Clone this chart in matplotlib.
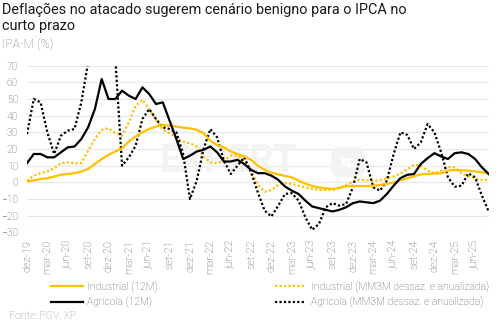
import matplotlib
matplotlib.use("Agg")
import matplotlib.pyplot as plt
import pandas as pd

# IPA-M, variação em % (dez-19 a ago-25)
meses = pd.date_range("2019-12-01", periods=69, freq="MS")

industrial_12m = [0.5, 1.2, 2.0, 2.5, 3.4, 4.6, 5.0, 5.5, 6.5, 8.0,
                  11.0, 14.0, 16.5, 18.5, 20.5, 24.5, 27.5, 30.0, 32.0, 33.5,
                  34.4, 34.0, 33.5, 32.8, 32.4, 31.5, 29.5, 25.0, 22.4, 21.0,
                  18.5, 17.0, 15.5, 13.5, 10.0, 7.5, 5.8, 4.8, 3.8, 3.0,
                  1.0, -0.8, -2.2, -3.0, -3.6, -4.0, -3.4, -2.4, -2.2, -2.2,
                  -2.2, -2.0, -1.6, -1.0, 0.0, 1.2, 2.4, 3.6, 4.8, 5.0,
                  5.2, 5.4, 7.0, 7.4, 7.2, 7.0, 6.5, 6.0, 5.4]

industrial_mm3m = [1.0, 4.0, 5.5, 6.5, 8.5, 11.5, 12.0, 11.5, 11.5, 19.0,
                   26.0, 31.5, 32.5, 29.5, 28.0, 36.0, 46.0, 49.5, 44.0, 37.5,
                   31.5, 29.5, 27.0, 24.5, 23.4, 21.4, 15.5, 12.0, 11.5, 13.0,
                   16.0, 16.2, 13.0, 7.0, -1.6, -5.6, -4.6, -1.6, -0.4, -1.0,
                   -2.0, -3.0, -4.0, -4.6, -4.6, -4.6, -3.2, -1.6, 0.4, 1.4,
                   1.2, 0.8, 1.4, 2.2, 3.5, 5.4, 7.8, 10.5, 10.0, 7.0,
                   5.5, 7.0, 9.0, 9.0, 5.5, 3.5, 2.5, 1.5, 1.5]

agricola_12m = [11.5, 17.0, 17.0, 15.0, 15.0, 18.0, 21.0, 21.5, 26.0, 33.0,
                44.0, 62.0, 50.0, 50.0, 55.0, 52.0, 50.0, 57.0, 53.0, 47.0,
                48.0, 37.0, 26.0, 14.0, 16.0, 18.5, 19.5, 21.5, 18.0, 12.5,
                12.5, 13.5, 11.0, 7.5, 5.5, 5.5, 4.0, 1.5, -2.5, -5.0,
                -7.0, -11.0, -14.5, -15.5, -16.5, -17.5, -16.5, -15.0, -12.5, -11.5,
                -12.0, -12.5, -11.0, -7.0, -2.0, 2.5, 4.5, 5.0, 11.0, 14.5,
                17.5, 15.5, 14.0, 17.5, 18.0, 17.0, 14.0, 9.0, 5.0]

agricola_mm3m = [29.0, 50.0, 48.0, 30.0, 17.0, 28.0, 31.0, 32.0, 48.0, 72.0,
                 90.0, 100.0, 95.0, 75.0, 10.0, 15.0, 22.0, 38.0, 44.0, 38.0,
                 33.0, 32.0, 30.0, 17.0, -10.0, 1.0, 20.0, 32.0, 27.0, 13.0,
                 5.0, 10.0, 15.0, 6.0, -6.0, -17.0, -20.5, -14.0, -7.0, -6.5,
                 -11.0, -21.0, -28.5, -25.0, -15.0, -12.5, -14.0, -13.0, -3.0, 14.0,
                 12.0, -3.0, -5.0, 1.0, 17.0, 30.0, 28.5, 20.0, 24.0, 35.0,
                 30.0, 18.0, 3.0, -2.6, -2.0, 5.4, 3.0, -8.0, -17.6]

rotulos_x = ["dez-19", "mar-20", "jun-20", "set-20", "dez-20", "mar-21", "jun-21",
             "set-21", "dez-21", "mar-22", "jun-22", "set-22", "dez-22", "mar-23",
             "jun-23", "set-23", "dez-23", "mar-24", "jun-24", "set-24", "dez-24",
             "mar-25", "jun-25"]

W, H = 502, 327
AMARELO = "#FFC000"
PRETO = "#000000"
CINZA = "#595959"
PONTILHADO = (0, (1, 1))

plt.rcParams["font.family"] = ["Roboto", "DejaVu Sans"]


def fx(x):
    return x / W


def fy(y):
    return 1 - y / H


fig = plt.figure(figsize=(W / 100, H / 100), dpi=100)
ax = fig.add_axes([fx(27), fy(232.3), fx(488.7 - 27), (232.3 - 65.7) / H])

x = list(range(len(meses)))
l1, = ax.plot(x, industrial_12m, color=AMARELO, lw=1.6, label="Industrial (12M)", zorder=4)
l2, = ax.plot(x, industrial_mm3m, color=AMARELO, lw=1.6, ls=PONTILHADO,
              label="Industrial (MM3M dessaz. e anualizada)", zorder=3)
l3, = ax.plot(x, agricola_12m, color=PRETO, lw=1.6, label="Agrícola (12M)", zorder=5)
l4, = ax.plot(x, agricola_mm3m, color=PRETO, lw=1.6, ls=PONTILHADO,
              label="Agrícola (MM3M dessaz. e anualizada)", zorder=3)

ax.set_xlim(0, len(meses) - 1)
ax.set_ylim(-30, 70)
ax.set_yticks(range(-30, 71, 10))
ax.set_xticks(range(0, len(meses), 3))
ax.set_xticklabels(rotulos_x, rotation=90)
ax.grid(axis="y", color="#e8e8e8", lw=0.9)
ax.set_axisbelow(True)
for s in ax.spines.values():
    s.set_visible(False)
ax.tick_params(axis="y", length=0, pad=6.5, labelsize=7.4, labelcolor=CINZA)
ax.tick_params(axis="x", length=0, pad=5.5, labelsize=7.8, labelcolor=CINZA)
for t in ax.get_xticklabels() + ax.get_yticklabels():
    t.set_fontweight("light")

# marca d'água
ax.text(fx(228), fy(162), "EXPERT", transform=fig.transFigure, ha="center", va="center",
        fontsize=27, fontweight="bold", color="#f3f3f3", zorder=1)
ax.text(fx(348), fy(162), "xp", transform=fig.transFigure, ha="center", va="center",
        fontsize=11, fontweight="bold", color="white", zorder=1,
        bbox=dict(boxstyle="round,pad=0.55", fc="#f3f3f3", ec="none"))

fig.text(fx(2), fy(3), "Deflações no atacado sugerem cenário benigno para o IPCA no\ncurto prazo",
         ha="left", va="top", fontsize=10.4, color="#1a1a1a", linespacing=1.15)
fig.text(fx(2), fy(38), "IPA-M (%)", ha="left", va="top", fontsize=8.8,
         color="#7f7f7f", fontweight="light")

leg = fig.legend(handles=[l1, l3, l2, l4], ncol=2, loc="upper left",
                 bbox_to_anchor=(fx(44), fy(274)), frameon=False,
                 fontsize=7.5, handlelength=3.0, handletextpad=0.45,
                 columnspacing=11.2, labelspacing=0.35, borderpad=0.2)
for t in leg.get_texts():
    t.set_color(CINZA)
    t.set_fontweight("light")

fig.text(fx(9), fy(321), "Fonte: FGV, XP", ha="left", va="bottom", fontsize=7.6,
         color="#8c8c8c", fontweight="light")

fig.savefig("out.png", dpi=100)
